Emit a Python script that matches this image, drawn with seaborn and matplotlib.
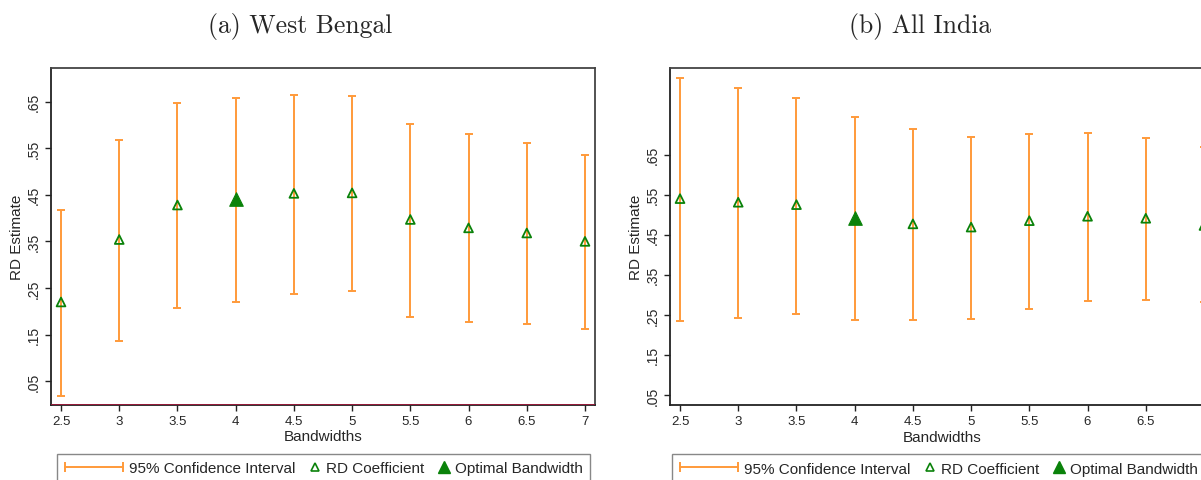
import numpy as np
import pandas as pd
import matplotlib
matplotlib.use("Agg")
import matplotlib.pyplot as plt
import seaborn as sns
from matplotlib.lines import Line2D
from matplotlib.legend_handler import HandlerLine2D

# ---------------- data ----------------
bandwidths = [2.5, 3, 3.5, 4, 4.5, 5, 5.5, 6, 6.5, 7]
xtick_labels = ["2.5", "3", "3.5", "4", "4.5", "5", "5.5", "6", "6.5", "7"]

wb_coef = [0.220, 0.354, 0.428, 0.440, 0.453, 0.454, 0.397, 0.379, 0.368, 0.350]
wb_lo = [0.018, 0.137, 0.208, 0.220, 0.238, 0.244, 0.188, 0.176, 0.172, 0.161]
wb_hi = [0.418, 0.567, 0.646, 0.658, 0.663, 0.661, 0.601, 0.580, 0.561, 0.535]

in_coef = [0.540, 0.531, 0.525, 0.491, 0.477, 0.469, 0.485, 0.496, 0.491, 0.473]
in_lo = [0.235, 0.242, 0.252, 0.236, 0.236, 0.239, 0.265, 0.285, 0.288, 0.282]
in_hi = [0.841, 0.816, 0.792, 0.743, 0.713, 0.694, 0.701, 0.704, 0.691, 0.668]

optimal_bw = 4
yticks = [0.05, 0.15, 0.25, 0.35, 0.45, 0.55, 0.65]
ytick_labels = [".05", ".15", ".25", ".35", ".45", ".55", ".65"]
titles = ["(a) West Bengal", "(b) All India"]
legend_labels = ["95% Confidence Interval", "RD Coefficient", "Optimal Bandwidth"]

# ---------------- style ----------------
ORANGE = "#FF9A3A"
GREEN = "#0A820A"
ZERO = "#B3133C"

sns.set_theme(style="white")
plt.rcParams["font.family"] = ["Liberation Sans", "DejaVu Sans"]

W, H = 1201, 481
fig = plt.figure(figsize=(W / 100, H / 100), dpi=100)
ax1 = fig.add_axes([51 / W, 1 - 405.5 / H, 544 / W, 336.5 / H])
ax2 = fig.add_axes([670 / W, 1 - 406 / H, 544 / W, 337 / H])


class WideHandler(HandlerLine2D):
    def __init__(self, width_em, **kw):
        super().__init__(**kw)
        self.width_em = width_em

    def legend_artist(self, legend, orig_handle, fontsize, handlebox):
        handlebox.width = self.width_em * fontsize
        return super().legend_artist(legend, orig_handle, fontsize, handlebox)


panels = [
    (ax1, wb_coef, wb_lo, wb_hi, (0.0, 0.722), 6),
    (ax2, in_coef, in_lo, in_hi, (0.025, 0.866), 2),
]

for ax, coef, lo, hi, ylim, leg_off in panels:
    df = pd.DataFrame({"bw": bandwidths, "coef": coef, "lo": lo, "hi": hi})
    df["optimal"] = df["bw"] == optimal_bw
    c = df["coef"].to_numpy()
    ax.errorbar(df["bw"], c, yerr=[c - df["lo"].to_numpy(), df["hi"].to_numpy() - c],
                fmt="none", ecolor=ORANGE, elinewidth=1.4, capsize=3.2,
                capthick=1.4, zorder=2)
    ax.axhline(0, color=ZERO, lw=1.8, zorder=4)
    sns.scatterplot(data=df[~df["optimal"]], x="bw", y="coef", marker="^", s=40,
                    facecolors="none", edgecolors=GREEN, linewidth=1.3,
                    ax=ax, zorder=3, legend=False)
    sns.scatterplot(data=df[df["optimal"]], x="bw", y="coef", marker="^", s=95,
                    color=GREEN, edgecolor=GREEN, linewidth=0.8,
                    ax=ax, zorder=3, legend=False)

    ax.set_xlim(2.414, 7.086)
    ax.set_ylim(*ylim)
    ax.set_xticks(bandwidths)
    ax.set_xticklabels(xtick_labels)
    ax.set_yticks(yticks)
    ax.set_yticklabels(ytick_labels, rotation=90, va="center")
    ax.tick_params(axis="both", which="major", direction="out", length=4.5,
                   width=1, color="#222222", labelsize=9.5, pad=3,
                   bottom=True, left=True)
    ax.tick_params(axis="y", labelsize=10)
    ax.set_xlabel("Bandwidths", fontsize=11, labelpad=1.5)
    ax.set_ylabel("RD Estimate", fontsize=11, labelpad=2)
    for side, sp in ax.spines.items():
        sp.set_visible(True)
        sp.set_linewidth(1.3)
        sp.set_color("#222222" if side in ("left", "bottom") else "#444444")

    ci_handle = Line2D([], [], color=ORANGE, lw=1.4, marker="|", markersize=6.5,
                       markeredgewidth=1.4)
    open_handle = Line2D([], [], ls="none", marker="^", markersize=6,
                         markerfacecolor="none", markeredgecolor=GREEN,
                         markeredgewidth=1.2)
    fill_handle = Line2D([], [], ls="none", marker="^", markersize=8.5,
                         markerfacecolor=GREEN, markeredgecolor=GREEN)
    leg = ax.legend([ci_handle, open_handle, fill_handle], legend_labels,
                    loc="upper left", bbox_to_anchor=(leg_off / 544, -0.146),
                    borderaxespad=0, ncol=3, fontsize=11, frameon=True,
                    fancybox=False, handlelength=0.6, handletextpad=0.4,
                    columnspacing=1.0, borderpad=0.5,
                    handler_map={ci_handle: WideHandler(3.8, numpoints=2, marker_pad=0)})
    leg.get_frame().set_edgecolor("#888888")
    leg.get_frame().set_linewidth(1.0)
    leg.get_frame().set_alpha(1)

fig.text(300 / W, 1 - 27 / H, titles[0], ha="center", va="center",
         fontfamily="cmr10", fontsize=18.5)
fig.text(920 / W, 1 - 27 / H, titles[1], ha="center", va="center",
         fontfamily="cmr10", fontsize=18.5)

fig.savefig("out.png", dpi=100)
